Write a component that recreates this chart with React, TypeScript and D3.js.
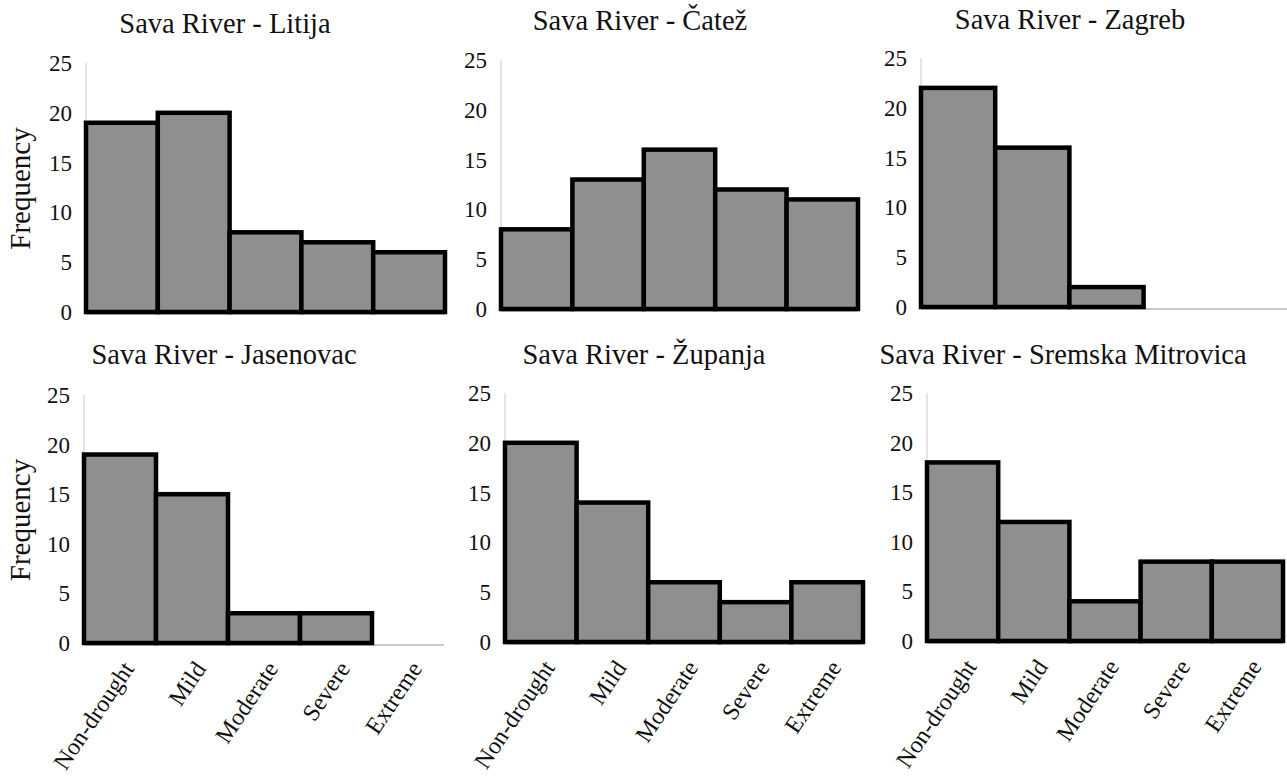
import { useEffect, useRef } from 'react'
import * as d3 from 'd3'

const categories = ['Non-drought', 'Mild', 'Moderate', 'Severe', 'Extreme']
const yTicks = [0, 5, 10, 15, 20, 25]

const titles = [
  'Sava River - Litija',
  'Sava River - Čatež',
  'Sava River - Zagreb',
  'Sava River - Jasenovac',
  'Sava River - Županja',
  'Sava River - Sremska Mitrovica',
]

const litija = [19, 20, 8, 7, 6]
const catez = [8, 13, 16, 12, 11]
const zagreb = [22, 16, 2, 0, 0]
const jasenovac = [19, 15, 3, 3, 0]
const zupanja = [20, 14, 6, 4, 6]
const sremska = [18, 12, 4, 8, 8]

const series = [litija, catez, zagreb, jasenovac, zupanja, sremska]

// plot frames in page pixels: left, right, y of 0, y of 25, title centre, title baseline
const frames = [
  { x0: 86, x1: 445, yZero: 312, yTop: 63, tx: 225, ty: 33, ylabel: true, xlabels: false },
  { x0: 501, x1: 858, yZero: 309, yTop: 60, tx: 640, ty: 30, ylabel: false, xlabels: false },
  { x0: 921, x1: 1292, yZero: 307, yTop: 58, tx: 1070, ty: 29, ylabel: false, xlabels: false },
  { x0: 84, x1: 444, yZero: 643, yTop: 395, tx: 224, ty: 364, ylabel: true, xlabels: true },
  { x0: 505, x1: 863, yZero: 642, yTop: 393, tx: 644, ty: 364, ylabel: false, xlabels: true },
  { x0: 927, x1: 1283, yZero: 641, yTop: 393, tx: 1063, ty: 364, ylabel: false, xlabels: true },
]

const FONT = 'Liberation Serif, DejaVu Serif, serif'

export default function App() {
  const svgRef = useRef<SVGSVGElement>(null)

  useEffect(() => {
    if (!svgRef.current) return
    const svg = d3.select(svgRef.current)
    svg.selectAll('*').remove()

    svg.append('rect').attr('width', 1287).attr('height', 781).attr('fill', '#fff')

    frames.forEach((f, i) => {
      const values = series[i]
      const x = d3.scaleBand<string>().domain(categories).range([f.x0, f.x1]).padding(0)
      const y = d3.scaleLinear().domain([0, 25]).range([f.yZero, f.yTop])
      const g = svg.append('g').style('font-family', FONT)

      // light axis lines
      g.append('line')
        .attr('x1', f.x0).attr('x2', f.x0)
        .attr('y1', y(25)).attr('y2', y(0))
        .attr('stroke', '#c8c8c8').attr('stroke-width', 1)
      g.append('line')
        .attr('x1', f.x0).attr('x2', Math.min(f.x1, 1287))
        .attr('y1', y(0) + 2).attr('y2', y(0) + 2)
        .attr('stroke', '#b8b8b8').attr('stroke-width', 1.5)

      // bars
      values.forEach((v, j) => {
        if (v <= 0) return
        const bx = x(categories[j]) as number
        g.append('rect')
          .attr('x', bx).attr('y', y(v))
          .attr('width', x.bandwidth()).attr('height', y(0) - y(v))
          .attr('fill', '#8f8f8f')
          .attr('stroke', '#000').attr('stroke-width', 4.5)
      })

      // y tick labels
      yTicks.forEach(t => {
        g.append('text')
          .attr('x', f.x0 - 14).attr('y', y(t))
          .attr('dy', '0.35em')
          .attr('text-anchor', 'end')
          .style('font-size', '23px')
          .attr('fill', '#111')
          .text(t)
      })

      // title
      g.append('text')
        .attr('x', f.tx).attr('y', f.ty)
        .attr('text-anchor', 'middle')
        .style('font-size', '28.5px')
        .attr('fill', '#111')
        .text(titles[i])

      if (f.ylabel) {
        const cy = (y(0) + y(25)) / 2 + 1
        g.append('text')
          .attr('transform', `translate(30,${cy}) rotate(-90)`)
          .attr('text-anchor', 'middle')
          .style('font-size', '29px')
          .attr('fill', '#111')
          .text('Frequency')
      }

      if (f.xlabels) {
        categories.forEach(c => {
          const cx = (x(c) as number) + x.bandwidth() / 2 + 8
          const cy = y(0) + 21
          g.append('text')
            .attr('transform', `translate(${cx},${cy}) rotate(-56)`)
            .attr('text-anchor', 'end')
            .attr('dy', '0.35em')
            .style('font-size', '24px')
            .attr('fill', '#111')
            .text(c)
        })
      }
    })
  }, [])

  return (
    <svg
      ref={svgRef}
      width={1287}
      height={781}
      style={{ position: 'absolute', left: 0, top: 0, display: 'block' }}
    />
  )
}
